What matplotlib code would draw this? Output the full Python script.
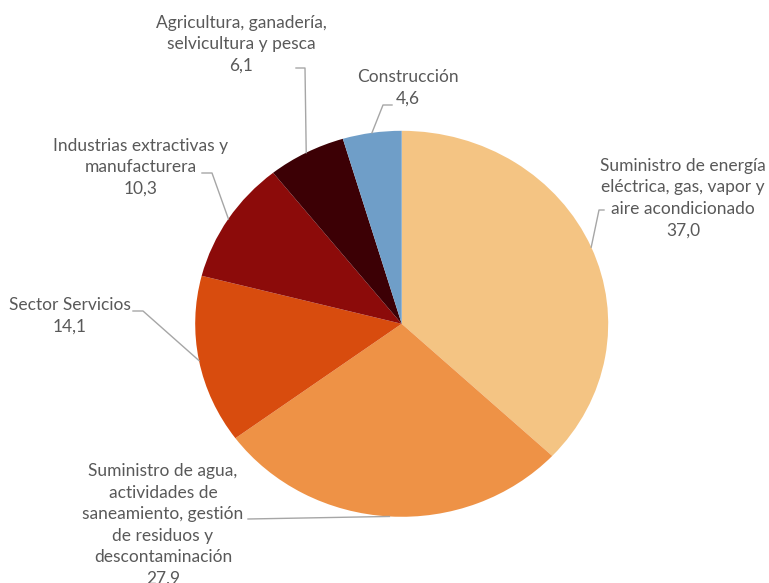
import numpy as np
import matplotlib
matplotlib.use("Agg")
import matplotlib.pyplot as plt

# data (percent share)
sectores = [
    "Suministro de energía\neléctrica, gas, vapor y\naire acondicionado",
    "Suministro de agua,\nactividades de\nsaneamiento, gestión\nde residuos y\ndescontaminación",
    "Sector Servicios",
    "Industrias extractivas y\nmanufacturera",
    "Agricultura, ganadería,\nselvicultura y pesca",
    "Construcción",
]
valores = [37.0, 27.9, 14.1, 10.3, 6.1, 4.6]
colores = ["#F4C483", "#EE9246", "#D84C0E", "#8C0B0A", "#3C0005", "#6F9EC8"]

# label layout in image pixels: text centre, elbow, line end
text_pos = [(683, 198), (163, 525), (70, 316), (141, 167), (241, 44), (408, 88)]
elbows = [(599, 210), (248, 519), (143, 311), (212, 173), (305, 68), (383, 105)]
tails = [(604, 210), (248, 519), (133, 311), (202, 173), (296, 68), (392, 105)]

W, H = 769, 583
CX, CY, RX, RY = 401.7, 323.8, 206.5, 193.0


def px(x, y):
    # image pixel -> data coords (radius 1 pie)
    return (x - CX) / RX, (CY - y) / RY


fig = plt.figure(figsize=(W / 100, H / 100), dpi=100)
ax = fig.add_axes([0, 0, 1, 1])
wedges, _ = ax.pie(valores, colors=colores, startangle=90, counterclock=False,
                   radius=1, wedgeprops=dict(linewidth=0))
ax.set_aspect("auto")
ax.set_xlim(-CX / RX, (W - CX) / RX)
ax.set_ylim(-(H - CY) / RY, CY / RY)
ax.axis("off")

for w, lab, v, tp, el, tl in zip(wedges, sectores, valores, text_pos, elbows, tails):
    ang = np.deg2rad((w.theta1 + w.theta2) / 2)
    x0, y0 = np.cos(ang), np.sin(ang)
    ex, ey = px(*el)
    tx, ty = px(*tl)
    ax.plot([x0, ex, tx], [y0, ey, ty], color="#A6A6A6", lw=1, clip_on=False)
    txt = lab + "\n" + f"{v:.1f}".replace(".", ",")
    lx, ly = px(*tp)
    ax.text(lx, ly, txt, ha="center", va="center", fontsize=12.5,
            family="Lato", color="#595959", linespacing=1.42, multialignment="center")

fig.savefig("out.png", dpi=100)
